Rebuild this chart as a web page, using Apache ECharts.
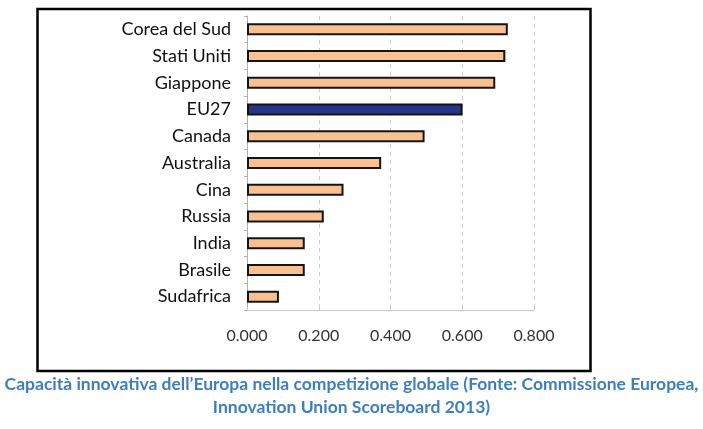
<!DOCTYPE html>
<html><head><meta charset="utf-8">
<script src="https://cdn.jsdelivr.net/npm/echarts@6/dist/echarts.min.js"></script>
<style>html,body{margin:0;padding:0;background:#fff}#c{width:703px;height:429px}</style>
</head><body><div id="c"></div>
<script>
const categories = ["Corea del Sud","Stati Uniti","Giappone","EU27","Canada","Australia","Cina","Russia","India","Brasile","Sudafrica"];
const values = [0.727,0.720,0.692,0.601,0.495,0.374,0.269,0.214,0.161,0.161,0.089];
const highlight = "EU27";
const xTicks = [0, 0.2, 0.4, 0.6, 0.8];
const caption = ["Capacità innovativa dell\u2019Europa nella competizione globale (Fonte: Commissione Europea,", "Innovation Union Scoreboard 2013)"];

const chart = echarts.init(document.getElementById('c'), null, {renderer:'canvas'});
chart.setOption({
  animation:false,
  backgroundColor:'#fff',
  grid:{left:247, right:703-534, top:16, bottom:429-310, containLabel:false},
  xAxis:{type:'value', min:xTicks[0], max:xTicks[xTicks.length-1], interval:0.2,
    axisLine:{show:true, lineStyle:{color:'#c8c8c8', width:1}},
    axisTick:{show:true, inside:true, length:3, lineStyle:{color:'#c8c8c8'}},
    splitLine:{show:true, lineStyle:{color:'#cfcfcf', type:[4,4], width:1}},
    axisLabel:{formatter:v=>v.toFixed(3), color:'#333', fontFamily:'Lato', fontSize:16, margin:18}
  },
  yAxis:{type:'category', data:categories, inverse:true,
    axisLine:{show:true, lineStyle:{color:'#b0b0b0', width:1}},
    axisTick:{show:true, length:3, lineStyle:{color:'#b0b0b0'}},
    axisLabel:{color:'#111', fontFamily:'Lato', fontSize:18, margin:16}
  },
  series:[{type:'bar', barWidth:12,
    data:categories.map((c,i)=>({value:values[i], itemStyle: c===highlight ? {color:'#27348b'} : {}})),
    itemStyle:{color:'#fac090', borderColor:'#141414', borderWidth:2}
  }],
  graphic:[
    {type:'rect', shape:{x:37.5, y:9, width:553, height:362}, style:{fill:'none', stroke:'#000', lineWidth:2.5}, z:-1},
    {type:'text', left:'center', top:375, style:{text:caption[0], font:'bold 17.5px Lato', fill:'#3d7ec2'}},
    {type:'text', left:'center', top:398, style:{text:caption[1], font:'bold 17.5px Lato', fill:'#3d7ec2'}}
  ]
});
</script></body></html>
